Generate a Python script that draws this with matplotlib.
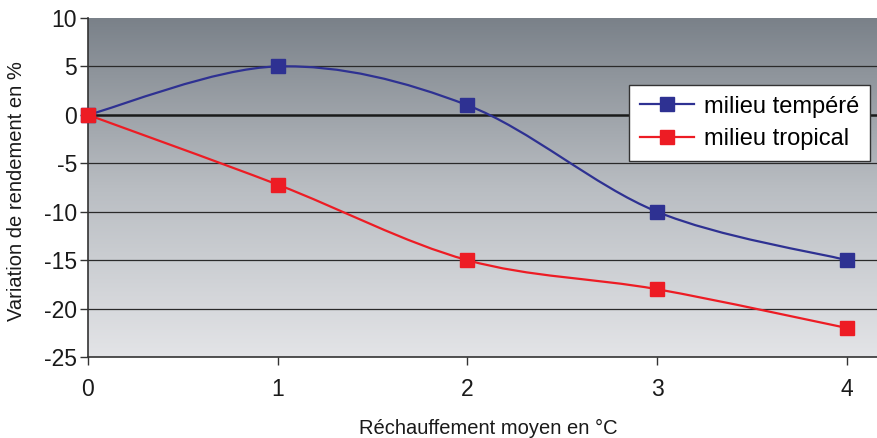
import numpy as np
import matplotlib
matplotlib.use("Agg")
import matplotlib.pyplot as plt
from matplotlib.path import Path
from matplotlib.patches import PathPatch
from matplotlib.lines import Line2D

plt.rcParams['font.family'] = ['Liberation Sans', 'DejaVu Sans']
plt.rcParams['axes.unicode_minus'] = False

# data
rechauffement = [0, 1, 2, 3, 4]
tempere = [0, 5, 1, -10, -15]
tropical = [0, -7.2, -15, -18, -22]
series_names = ["milieu tempéré", "milieu tropical"]
y_ticks = [10, 5, 0, -5, -10, -15, -20, -25]

blue = "#2e3192"
red = "#ed1c24"


def smooth_path(xs, ys):
    # Excel-style smoothed line: cubic Bezier between the points
    pts = np.column_stack([xs, ys]).astype(float)
    verts = [pts[0]]
    codes = [Path.MOVETO]
    n = len(pts)
    for i in range(n - 1):
        p0 = pts[i - 1] if i > 0 else pts[i]
        p1 = pts[i]
        p2 = pts[i + 1]
        p3 = pts[i + 2] if i + 2 < n else pts[i + 1]
        c1 = p1 + (p2 - p0) / 6
        c2 = p2 - (p3 - p1) / 6
        verts += [c1, c2, p2]
        codes += [Path.CURVE4] * 3
    return Path(verts, codes)


fig = plt.figure(figsize=(8.77, 4.38), dpi=100)
ax = fig.add_axes([88 / 877, 1 - 357 / 438, 1 - 88 / 877, 339 / 438])

# gradient background
grad = np.linspace(0, 1, 256).reshape(-1, 1)
cmap = matplotlib.colors.LinearSegmentedColormap.from_list(
    "bg", ["#e3e4e7", "#b9bdc2", "#7a8189"])
ax.imshow(grad, aspect="auto", cmap=cmap, origin="lower",
          extent=[0, 1, 0, 1], transform=ax.transAxes, zorder=0)

ax.set_xlim(0, 4.16)
ax.set_ylim(-25, 10)

for yv in y_ticks:
    if yv == 0:
        ax.axhline(0, color="#1a1a1a", lw=1.8, zorder=1)
    elif yv not in (10, -25):
        ax.axhline(yv, color="#2a2a2a", lw=0.9, zorder=1)

for ys, col in [(tempere, blue), (tropical, red)]:
    ax.add_patch(PathPatch(smooth_path(rechauffement, ys), fill=False,
                           edgecolor=col, lw=1.6, zorder=3))
    ax.plot(rechauffement, ys, ls="none", marker="s", ms=10.5, color=col,
            zorder=4, clip_on=False)

ax.set_xticks(rechauffement)
ax.set_yticks(y_ticks)
ax.tick_params(axis="both", labelsize=16.5, direction="out", length=6,
               width=1, colors="#333333", labelcolor="#1a1a1a")
ax.tick_params(axis="x", pad=9)
ax.tick_params(axis="y", pad=2)

for s in ["top", "right"]:
    ax.spines[s].set_visible(False)
ax.spines["left"].set_color("#333333")
ax.spines["bottom"].set_color("#333333")
ax.spines["left"].set_linewidth(1.2)
ax.spines["bottom"].set_linewidth(1.2)

ax.set_ylabel("Variation de rendement en %", fontsize=14.5, color="#1a1a1a")
ax.yaxis.set_label_coords(-0.078, 0.49)
fig.text(488 / 877, 1 - 428 / 438, "Réchauffement moyen en °C", fontsize=14.5,
         color="#1a1a1a", ha="center", va="center")

handles = [Line2D([], [], color=blue, lw=1.6, marker="s", ms=10.5),
           Line2D([], [], color=red, lw=1.6, marker="s", ms=10.5)]
leg = ax.legend(handles, series_names, loc="upper left",
                bbox_to_anchor=(0.686, 0.802), borderaxespad=0, fontsize=17,
                frameon=True, fancybox=False, framealpha=1,
                edgecolor="#333333", borderpad=0.45, handlelength=2.3,
                labelspacing=0.45, handletextpad=0.4)
leg.get_frame().set_linewidth(1.0)
leg.set_zorder(5)

fig.savefig("out.png", dpi=100)
